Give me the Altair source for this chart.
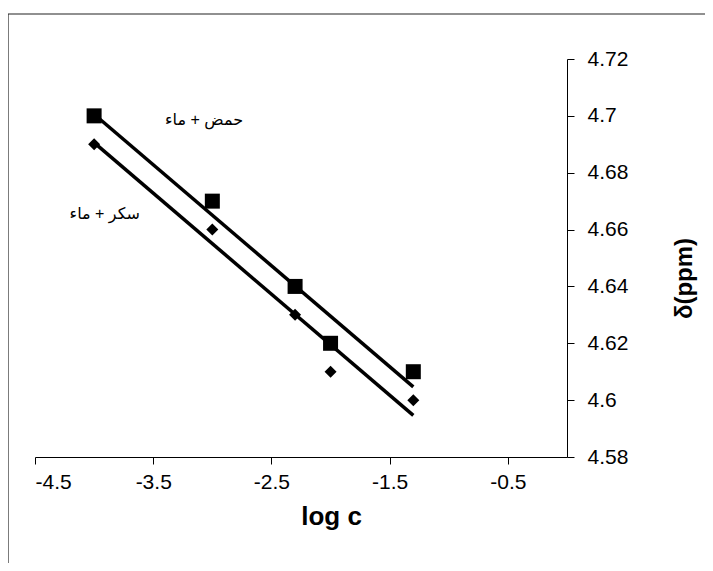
import altair as alt
import pandas as pd

# data
log_c = [-4.0, -3.0, -2.3, -2.0, -1.3]
acid_water = [4.70, 4.67, 4.64, 4.62, 4.61]
sugar_water = [4.69, 4.66, 4.63, 4.61, 4.60]
series_names = ["acid", "sugar"]
label_texts = ["حمض + ماء", "سكر + ماء"]
label_x = [-3.07, -3.91]
label_y = [4.6985, 4.6655]
x_ticks = [-4.5, -3.5, -2.5, -1.5, -0.5]
y_ticks = [4.58, 4.60, 4.62, 4.64, 4.66, 4.68, 4.70, 4.72]

FONT = "Liberation Sans, Arial, DejaVu Sans, sans-serif"

df = pd.DataFrame({
    "x": log_c + log_c,
    "y": acid_water + sugar_water,
    "s": [series_names[0]] * len(log_c) + [series_names[1]] * len(log_c),
})
labels = pd.DataFrame({"x": label_x, "y": label_y, "t": label_texts})

xs = alt.Scale(domain=[-4.5, 0], nice=False, zero=False)
ys = alt.Scale(domain=[4.58, 4.72], nice=False, zero=False)

x_axis = alt.Axis(
    orient="bottom", values=x_ticks, labelExpr="'' + datum.value",
    tickSize=7, tickColor="black", domainColor="black", labelColor="black",
    labelFontSize=21, labelFont=FONT, labelPadding=7, grid=False,
    title="log c", titleFont=FONT, titleFontSize=26, titleFontWeight="bold",
    titleColor="black", titleX=296, titleY=67, titleBaseline="alphabetic",
    titleAnchor="start", titleAlign="center",
)
y_axis = alt.Axis(
    orient="right", values=y_ticks, labelExpr="'' + datum.value",
    tickSize=7, tickColor="black", domainColor="black", labelColor="black",
    labelFontSize=21, labelFont=FONT, labelPadding=13, grid=False,
    title="δ(ppm)", titleFont=FONT, titleFontSize=24, titleFontWeight="bold",
    titleColor="black", titleAngle=270, titleX=117, titleY=219,
    titleAlign="center", titleBaseline="middle",
)

frame = pd.DataFrame({"a": [0]})
border_left = alt.Chart(frame).mark_rule(
    color="#222222", strokeWidth=1.2, clip=False
).encode(x=alt.value(-27), y=alt.value(-45), y2=alt.value(620))
border_top = alt.Chart(frame).mark_rule(
    color="#222222", strokeWidth=1.2, clip=False
).encode(x=alt.value(-27), x2=alt.value(720), y=alt.value(-45))

lines = alt.Chart(df).transform_regression(
    "x", "y", groupby=["s"]
).mark_line(color="black", strokeWidth=3.5).encode(
    x=alt.X("x:Q", scale=xs, axis=x_axis),
    y=alt.Y("y:Q", scale=ys, axis=y_axis),
    detail="s:N",
)

points = alt.Chart(df).mark_point(filled=True, opacity=1, color="black").encode(
    x=alt.X("x:Q", scale=xs),
    y=alt.Y("y:Q", scale=ys),
    shape=alt.Shape("s:N", scale=alt.Scale(domain=series_names, range=["square", "diamond"]), legend=None),
    size=alt.Size("s:N", scale=alt.Scale(domain=series_names, range=[225, 144]), legend=None),
)

texts = alt.Chart(labels).mark_text(
    font=FONT, fontSize=16, color="black", align="center", baseline="middle"
).encode(
    x=alt.X("x:Q", scale=xs),
    y=alt.Y("y:Q", scale=ys),
    text="t:N",
)

chart = alt.layer(border_left, border_top, lines, points, texts).properties(
    width=532, height=398,
    autosize=alt.AutoSizeParams(type="none"),
    padding={"left": 27, "top": 51, "right": 138, "bottom": 106},
    view=alt.ViewBackground(stroke="white", strokeWidth=0, strokeOpacity=0, fill="white"),
).configure_view(stroke="white", strokeWidth=0, strokeOpacity=0).configure(background="white")

chart.save("out.html", embed_options={"renderer": "svg", "actions": False})
